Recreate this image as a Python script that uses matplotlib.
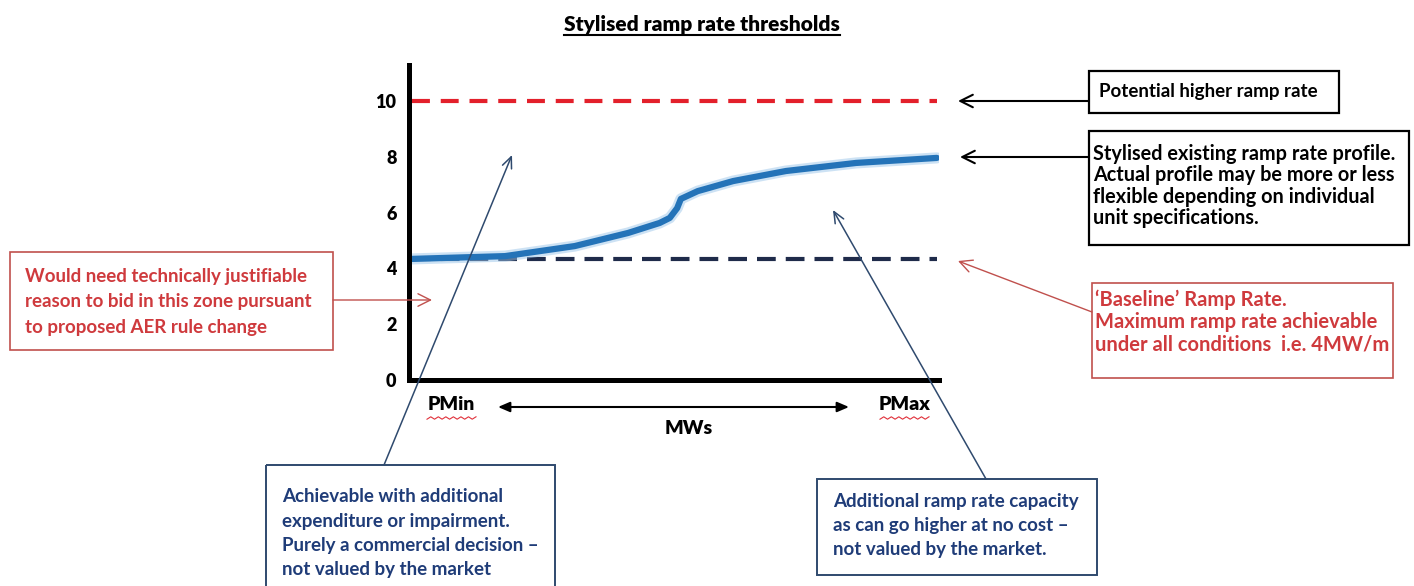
import numpy as np
import matplotlib.pyplot as plt
from matplotlib.patches import Rectangle

plt.rcParams['font.family'] = ['Lato', 'DejaVu Sans']

# stylised ramp rate profile (MW/min) against output from PMin (0) to PMax (10)
curve_x = [0.06, 1.82, 3.14, 4.15, 4.75, 4.94, 5.08, 5.15, 5.47, 6.14, 7.14, 8.47, 10.0]
curve_y = [4.34, 4.44, 4.80, 5.27, 5.63, 5.81, 6.16, 6.49, 6.77, 7.13, 7.49, 7.78, 7.96]
line_x = [0.06, 10.0]
higher_rate = 10
baseline_rate = 4.34
y_ticks = [0, 2, 4, 6, 8, 10]
y_labels = ["0", "2", "4", "6", "8", "10"]

W, H = 1414, 586
fig = plt.figure(figsize=(W / 100, H / 100), dpi=100)

# main chart
ax = fig.add_axes([409 / W, (H - 380) / H, (939 - 409) / W, (380 - 65) / H])
ax.set_xlim(0, 10.04)
ax.set_ylim(0, 11.29)
ax.plot(line_x, [higher_rate] * 2, color="#e3202b", lw=3, ls=(0, (4.3, 2.6)))
ax.plot(line_x, [baseline_rate] * 2, color="#1f2b4a", lw=3, ls=(0, (4.5, 2.4)))
ax.plot(curve_x, curve_y, color="#9cc6ea", lw=8, alpha=0.5, solid_capstyle="round")
ax.plot(curve_x, curve_y, color="#2473b8", lw=4.5, solid_capstyle="round")

for side in ["top", "right"]:
    ax.spines[side].set_visible(False)
for side in ["left", "bottom"]:
    ax.spines[side].set_linewidth(3.6)
    ax.spines[side].set_color("black")
ax.set_xticks([])
ax.set_yticks(y_ticks)
ax.set_yticklabels(y_labels, fontsize=13, fontweight="heavy")
ax.tick_params(axis="y", length=0, pad=9)
ax.patch.set_alpha(0)

# overlay in pixel coordinates for the notes
ov = fig.add_axes([0, 0, 1, 1])
ov.set_xlim(0, W)
ov.set_ylim(H, 0)
ov.axis("off")

# title
title = ov.text(702, 24, "Stylised ramp rate thresholds", ha="center", va="center",
                fontsize=15, fontweight="heavy", color="black")
fig.canvas.draw()
bb = title.get_window_extent().transformed(ov.transData.inverted())
ov.plot([bb.x0, bb.x1], [35, 35], color="black", lw=1.5)

# axis labels
ov.text(451, 405, "PMin", ha="center", va="center", fontsize=14, fontweight="heavy")
ov.text(905, 405, "PMax", ha="center", va="center", fontsize=14, fontweight="heavy")
ov.text(689, 428, "MWs", ha="center", va="center", fontsize=14, fontweight="heavy")
ov.annotate("", xy=(498, 407), xytext=(849, 407),
            arrowprops=dict(arrowstyle="<|-|>,head_length=0.7,head_width=0.3",
                            color="black", lw=1.5, shrinkA=0, shrinkB=0))
for x0, x1 in [(427, 476), (880, 929)]:
    xs = np.linspace(x0, x1, 14)
    ys = 418 + 1.2 * (-1) ** np.arange(14)
    ov.plot(xs, ys, color="#e0303a", lw=0.8)

# black notes
black_arrow = dict(arrowstyle="->,head_length=0.9,head_width=0.45", color="black",
                   lw=1.5, shrinkA=0, shrinkB=0)
ov.add_patch(Rectangle((1089, 71), 250, 42, fill=False, ec="black", lw=1.6))
ov.text(1099, 92, "Potential higher ramp rate", va="center", fontsize=13.5,
        fontweight="bold")
ov.annotate("", xy=(958, 101), xytext=(1089, 101), arrowprops=black_arrow)

ov.add_patch(Rectangle((1089, 131), 320, 114, fill=False, ec="black", lw=1.6))
ov.text(1093, 186, "Stylised existing ramp rate profile.\nActual profile may be more or less\n"
        "flexible depending on individual\nunit specifications.",
        va="center", fontsize=14.3, fontweight="bold", linespacing=1.1)
ov.annotate("", xy=(960, 157), xytext=(1089, 157), arrowprops=black_arrow)

# red notes
red = "#cf3a3d"
red_arrow = dict(arrowstyle="->,head_length=0.9,head_width=0.45", color="#c0504d",
                 lw=1.0, shrinkA=0, shrinkB=0)
ov.add_patch(Rectangle((1092, 283), 301, 95, fill=False, ec="#c0504d", lw=1.2))
ov.text(1095, 322, "\u2018Baseline\u2019 Ramp Rate.\nMaximum ramp rate achievable\n"
        "under all conditions  i.e. 4MW/m",
        va="center", fontsize=14.5, fontweight="bold", color=red, linespacing=1.12)
ov.annotate("", xy=(958, 261), xytext=(1092, 312), arrowprops=red_arrow)

ov.add_patch(Rectangle((10, 252), 323, 98, fill=False, ec="#c0504d", lw=1.2))
ov.text(25, 302, "Would need technically justifiable\nreason to bid in this zone pursuant\n"
        "to proposed AER rule change",
        va="center", fontsize=13.5, fontweight="bold", color=red, linespacing=1.6)
ov.annotate("", xy=(432, 300), xytext=(333, 300), arrowprops=red_arrow)

# blue notes
blue = "#1f3c78"
blue_edge = "#2f4a6e"
blue_arrow = dict(arrowstyle="->,head_length=0.8,head_width=0.35", color=blue_edge,
                  lw=1.1, shrinkA=0, shrinkB=0)
ov.add_patch(Rectangle((266, 465), 289, 140, fill=False, ec=blue_edge, lw=1.4))
ov.text(282, 533, "Achievable with additional\nexpenditure or impairment.\n"
        "Purely a commercial decision \u2013\nnot valued by the market",
        va="center", fontsize=13.5, fontweight="bold", color=blue, linespacing=1.5)
ov.annotate("", xy=(512, 155), xytext=(384, 465), arrowprops=blue_arrow)

ov.add_patch(Rectangle((817, 479), 280, 96, fill=False, ec=blue_edge, lw=1.4))
ov.text(833, 526, "Additional ramp rate capacity\nas can go higher at no cost \u2013\n"
        "not valued by the market.",
        va="center", fontsize=13.5, fontweight="bold", color=blue, linespacing=1.5)
ov.annotate("", xy=(833, 210), xytext=(986, 479), arrowprops=blue_arrow)

fig.savefig("out.png", dpi=100)
